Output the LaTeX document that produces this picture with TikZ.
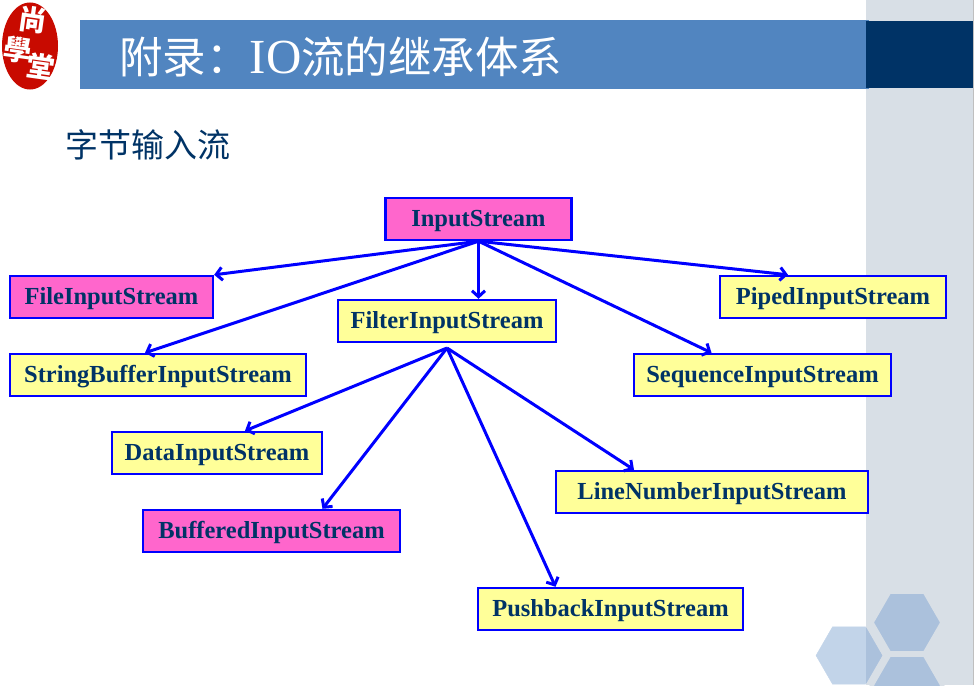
\documentclass[tikz,border=0pt]{standalone}
\usepackage{fontspec}
\usetikzlibrary{arrows.meta,shapes.geometric}
\setmainfont{Liberation Serif}
\newfontfamily\cjk{Noto Sans CJK SC}
\definecolor{bandblue}{HTML}{5185C0}
\definecolor{navy}{HTML}{003366}
\definecolor{panelgray}{HTML}{D8DFE6}
\definecolor{sealred}{HTML}{C80A00}
\definecolor{hexlight}{HTML}{C2D4E9}
\definecolor{hexdark}{HTML}{ABC1DC}
\definecolor{boxpink}{HTML}{FF66CC}
\definecolor{boxyellow}{HTML}{FFFF99}
\tikzset{
    streambox/.style={draw=blue,line width=2.4pt,minimum height=42pt,inner sep=0pt,
        text height=20pt,text depth=4.6pt,
        text=navy,font=\fontsize{24.5}{24.5}\selectfont\bfseries},
    pinkbox/.style={streambox,fill=boxpink},
    yellowbox/.style={streambox,fill=boxyellow},
    inherit/.style={draw=blue,line width=3pt,-{Straight Barb[length=6pt,width=13pt,line width=3pt]}},
    sealtext/.style={text=white,font=\fontsize{28}{28}\selectfont\cjk\bfseries,inner sep=0pt}
}
\newcommand{\hexa}[4][hexdark]{\filldraw[fill=#1,draw=#2] #3 +(0:#4) -- +(60:#4) -- +(120:#4) -- +(180:#4) -- +(240:#4) -- +(300:#4) -- cycle;}
\begin{document}
\begin{tikzpicture}[x=1pt,y=-1pt]
        \useasboundingbox (0,0) rectangle (979,685);
        \clip (0,0) rectangle (979,685);

        % side panel and title band
        \fill[panelgray] (866,0) rectangle (973,685);
        \draw[gray!50,line width=1pt] (973.5,0) -- (973.5,685);
        \fill[bandblue] (80,20) rectangle (869,89);
        \fill[navy] (866,21) rectangle (973,88);
        \node[text=white,anchor=west,inner sep=0pt,font=\fontsize{43.5}{43.5}\selectfont\cjk] (title) at (119,57)
            {附录：{\rmfamily\fontsize{49}{49}\selectfont IO}流的继承体系};
        \node[text=navy,anchor=west,inner sep=0pt,font=\fontsize{33}{33}\selectfont\cjk] (subtitle) at (65,145) {字节输入流};

        % seal
        \node[ellipse,fill=sealred,minimum width=56pt,minimum height=87pt,inner sep=0pt] (seal) at (30,46) {};
        \node[sealtext,rotate=-8] (shang) at (33,20) {尚};
        \node[sealtext,rotate=-8] (xue) at (18,50) {學};
        \node[sealtext,rotate=-8] (tang) at (41,67) {堂};

        % hexagons
        \hexa[hexlight]{hexlight}{(849,655.5)}{33}
        \begin{scope}
            \clip (866,0) rectangle (973,685);
            \hexa{hexdark}{(849,655.5)}{33}
        \end{scope}
        \begin{scope}[line width=4pt]
            \hexa{panelgray}{(907,622.5)}{35.3}
            \hexa{panelgray}{(907,685.5)}{35.3}
        \end{scope}

        % stream classes
        \node[pinkbox,minimum width=186pt] (input) at (478.5,219){InputStream};
        \node[pinkbox,minimum width=203pt] (file) at (111.5,297){FileInputStream};
        \node[yellowbox,minimum width=296pt] (stringbuf) at (158,375){StringBufferInputStream};
        \node[yellowbox,minimum width=218pt] (filter) at (447,321){FilterInputStream};
        \node[yellowbox,minimum width=226pt] (piped) at (833,297){PipedInputStream};
        \node[yellowbox,minimum width=257pt] (sequence) at (762.5,375){SequenceInputStream};
        \node[yellowbox,minimum width=210pt] (data) at (217,453){DataInputStream};
        \node[pinkbox,minimum width=257pt] (buffered) at (271.5,531){BufferedInputStream};
        \node[yellowbox,minimum width=312pt] (linenum) at (712,492){LineNumberInputStream};
        \node[yellowbox,minimum width=265pt] (pushback) at (610.5,609){PushbackInputStream};

        \coordinate (filterout) at (447,348);

        \draw[inherit] (input.south) -- (file.north east);
        \draw[inherit] (input.south) -- ([xshift=-13pt]stringbuf.north);
        \draw[inherit] (input.south) -- (input.south |- filter.north);
        \draw[inherit] (input.south) -- ([xshift=-45pt]piped.north);
        \draw[inherit] (input.south) -- ([xshift=-51pt]sequence.north);
        \draw[inherit] (filterout) -- ([xshift=28pt]data.north);
        \draw[inherit] (filterout) -- ([xshift=51pt]buffered.north);
        \draw[inherit] (filterout) -- ([xshift=-78pt]linenum.north);
        \draw[inherit] (filterout) -- ([xshift=-55pt]pushback.north);
    \end{tikzpicture}
\end{document}
